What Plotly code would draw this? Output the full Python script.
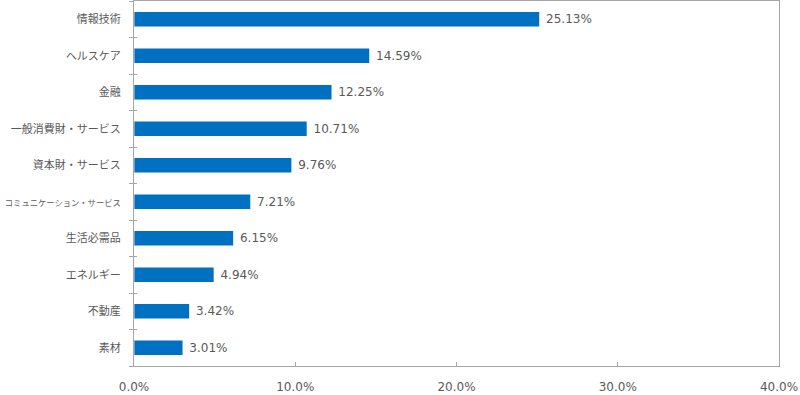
import plotly.graph_objects as go

categories = ["情報技術", "ヘルスケア", "金融", "一般消費財・サービス", "資本財・サービス",
              "コミュニケーション・サービス", "生活必需品", "エネルギー", "不動産", "素材"]
values = [25.13, 14.59, 12.25, 10.71, 9.76, 7.21, 6.15, 4.94, 3.42, 3.01]
x_ticks = [0, 10, 20, 30, 40]
x_tick_labels = ["0.0%", "10.0%", "20.0%", "30.0%", "40.0%"]

labels = [f" {v:.2f}%" for v in values]


def fit_label(s):
    # shrink long category labels so they fit the left margin like the reference
    n = len(s)
    if n * 11 > 118:
        size = 116 / n
        return f"<span style='font-size:{size:.1f}px'>{s}</span>"
    return s


tick_text = [fit_label(c) for c in categories]

fig = go.Figure()
fig.add_trace(go.Bar(
    y=categories, x=values, orientation="h",
    marker=dict(color="#0070c0", line=dict(width=0)),
    width=0.4,
    text=labels, textposition="outside",
    textfont=dict(family="DejaVu Sans", size=12, color="#595959"),
    cliponaxis=False,
    hoverinfo="skip",
))
# invisible trace on overlay axis to draw inner halves of boundary ticks
fig.add_trace(go.Bar(
    y=categories, x=[0] * len(categories), orientation="h",
    yaxis="y2", marker=dict(color="rgba(0,0,0,0)"), showlegend=False,
    hoverinfo="skip",
))

axis_color = "#a6a6a6"
fig.update_layout(
    width=800, height=395,
    margin=dict(l=134, r=21, t=1, b=29, autoexpand=False),
    paper_bgcolor="white", plot_bgcolor="white",
    showlegend=False,
    bargap=0.6,
    font=dict(family="Noto Sans CJK JP", size=11, color="#595959"),
    xaxis=dict(
        range=[0, 40], tickvals=x_ticks, ticktext=x_tick_labels,
        ticks="inside", ticklen=4, tickcolor=axis_color, tickwidth=1,
        showgrid=False, zeroline=False, automargin=False,
        showline=True, linecolor=axis_color, linewidth=1, mirror=True,
        tickfont=dict(family="DejaVu Sans", size=12, color="#595959"),
        ticklabelstandoff=10,
    ),
    yaxis=dict(
        categoryorder="array", categoryarray=categories,
        autorange="reversed", automargin=False,
        tickvals=categories, ticktext=tick_text,
        ticks="outside", tickson="boundaries", ticklen=4,
        tickcolor=axis_color, tickwidth=1,
        showgrid=False, zeroline=False,
        showline=True, linecolor=axis_color, linewidth=1, mirror=True,
        tickfont=dict(family="Noto Sans CJK JP", size=11, color="#595959"),
        ticklabelstandoff=10,
    ),
    yaxis2=dict(
        overlaying="y", side="left", matches="y", automargin=False,
        ticks="inside", tickson="boundaries", ticklen=3,
        tickcolor=axis_color, tickwidth=1,
        showticklabels=False, showgrid=False, zeroline=False, showline=False,
    ),
)

fig.write_html("out.html", config={"displayModeBar": False},
               post_script="document.body.style.margin='0';")
